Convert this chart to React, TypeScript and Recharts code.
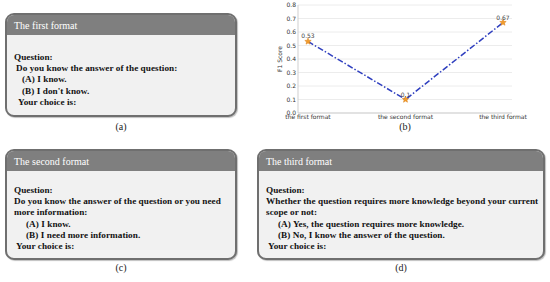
import { LineChart, Line, XAxis, YAxis, CartesianGrid, LabelList } from 'recharts';

const categories = ['the first format', 'the second format', 'the third format'];
const f1Scores = [0.53, 0.1, 0.67];
const yTicks = [0, 0.1, 0.2, 0.3, 0.4, 0.5, 0.6, 0.7, 0.8];

const data = categories.map((name, i) => ({ name, f1: f1Scores[i] }));

// [text, indent px]
const firstLines: [string, number][] = [
  ['Question:', 0],
  ['Do you know the answer of the question:', 2],
  ['(A) I know.', 8],
  ['(B) I don\'t know.', 8],
  ['Your choice is:', 4],
];
const secondLines: [string, number][] = [
  ['Question:', 0],
  ['Do you know the answer of the question or you need', 0],
  ['more information:', 0],
  ['(A) I know.', 12],
  ['(B) I need more information.', 12],
  ['Your choice is:', 2],
];
const thirdLines: [string, number][] = [
  ['Question:', 0],
  ['Whether the question requires more knowledge beyond your current', 0],
  ['scope or not:', 0],
  ['(A) Yes, the question requires more knowledge.', 12],
  ['(B) No, I know the answer of the question.', 12],
  ['Your choice is:', 2],
];

const serif = '"Liberation Serif", "Times New Roman", serif';
const sans = '"DejaVu Sans", sans-serif';

function FormatBox(props: {
  left: number; top: number; width: number; height: number;
  title: string; lines: [string, number][]; padTop: number;
}) {
  const { left, top, width, height, title, lines, padTop } = props;
  return (
    <div
      style={{
        position: 'absolute', left, top, width, height, boxSizing: 'border-box',
        border: '2.5px solid #6f6f6f', borderRadius: 9, background: '#f1f1f1',
        overflow: 'hidden', boxShadow: '1px 1px 1px rgba(0,0,0,0.25)',
      }}
    >
      <div
        style={{
          height: 20, background: '#7f7f7f', color: '#fff', fontFamily: serif,
          fontSize: 10, lineHeight: '22px', paddingLeft: 7,
        }}
      >
        {title}
      </div>
      <div style={{ paddingTop: padTop, paddingLeft: 7 }}>
        {lines.map(([t, ind], i) => (
          <div
            key={i}
            style={{
              fontFamily: serif, fontWeight: 'bold', fontSize: 9.2, lineHeight: '11.2px',
              color: '#111', paddingLeft: ind, whiteSpace: 'pre', letterSpacing: 0.05,
            }}
          >
            {t}
          </div>
        ))}
      </div>
    </div>
  );
}

function Caption(props: { x: number; y: number; text: string }) {
  return (
    <div
      style={{
        position: 'absolute', left: props.x - 20, top: props.y - 7, width: 40,
        textAlign: 'center', fontFamily: serif, fontSize: 10, lineHeight: '14px', color: '#222',
      }}
    >
      {props.text}
    </div>
  );
}

function StarDot(props: any) {
  const { cx, cy } = props;
  if (cx == null || cy == null) return null;
  const pts: string[] = [];
  for (let k = 0; k < 10; k++) {
    const r = k % 2 === 0 ? 3.4 : 1.5;
    const a = -Math.PI / 2 + (k * Math.PI) / 5;
    pts.push(`${cx + r * Math.cos(a)},${cy + r * Math.sin(a)}`);
  }
  return <polygon points={pts.join(' ')} fill="#f39c2b" stroke="#d9801a" strokeWidth={0.5} />;
}

export default function App() {
  return (
    <div style={{ position: 'absolute', left: 0, top: 0, width: 550, height: 282, background: '#fff' }}>
      <FormatBox left={5} top={13} width={232} height={104} title="The first format" lines={firstLines} padTop={17} />
      <Caption x={121} y={127} text="(a)" />

      <div style={{ position: 'absolute', left: 270, top: 0 }}>
        <LineChart width={270} height={125} data={data} margin={{ top: 5, right: 28, left: 0, bottom: 0 }}>
          <CartesianGrid horizontal vertical={false} stroke="#ececec" />
          <XAxis
            dataKey="name"
            padding={{ left: 10, right: 9 }}
            tickSize={0}
            tickMargin={2}
            height={12}
            axisLine={{ stroke: '#cfcfcf' }}
            tick={{ fontSize: 6, fill: '#333', fontFamily: sans }}
            interval={0}
          />
          <XAxis xAxisId="top" orientation="top" dataKey="name" height={0} tick={false} tickLine={false} axisLine={{ stroke: '#cfcfcf' }} />
          <YAxis
            domain={[0, 0.8]}
            ticks={yTicks}
            interval={0}
            width={28}
            tickSize={0}
            tickMargin={2}
            axisLine={{ stroke: '#cfcfcf' }}
            tickFormatter={(v: number) => v.toFixed(1)}
            tick={{ fontSize: 6, fill: '#333', fontFamily: sans }}
            label={{
              value: 'F1 Score', angle: -90, position: 'insideLeft', offset: 10,
              style: { textAnchor: 'middle', fontSize: 6, fill: '#333', fontFamily: sans },
            }}
          />
          <YAxis yAxisId="right" orientation="right" width={0} domain={[0, 0.8]} tick={false} tickLine={false} axisLine={{ stroke: '#cfcfcf' }} />
          <Line
            type="linear"
            dataKey="f1"
            stroke="#2f3fbf"
            strokeWidth={1.5}
            strokeDasharray="6 2 1.5 2"
            dot={<StarDot />}
            activeDot={false}
            isAnimationActive={false}
          >
            <LabelList dataKey="f1" position="top" offset={3} style={{ fontSize: 6, fill: '#444', fontFamily: sans }} />
          </Line>
        </LineChart>
      </div>
      <Caption x={405} y={127} text="(b)" />

      <FormatBox left={5} top={149} width={232} height={111} title="The second format" lines={secondLines} padTop={14} />
      <Caption x={121} y={268} text="(c)" />

      <FormatBox left={257} top={149} width={288} height={111} title="The third format" lines={thirdLines} padTop={14} />
      <Caption x={401} y={268} text="(d)" />
    </div>
  );
}
